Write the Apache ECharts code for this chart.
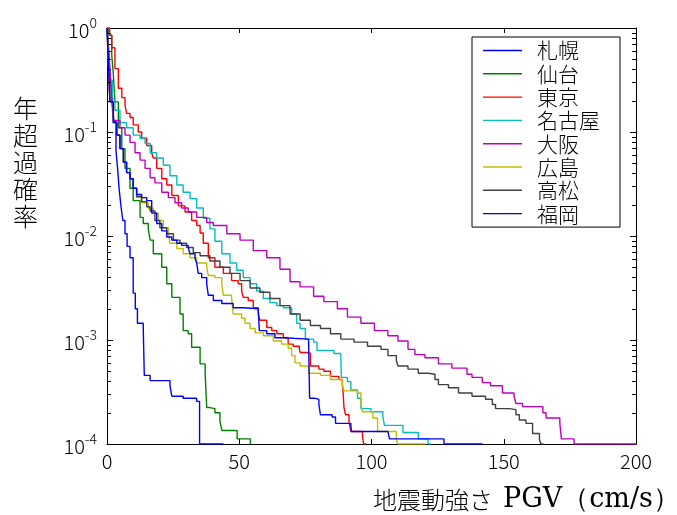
<!DOCTYPE html>
<html>
<head>
<meta charset="utf-8">
<script src="https://cdn.jsdelivr.net/npm/echarts@6/dist/echarts.min.js"></script>
<style>
html,body{margin:0;padding:0;background:#fff;}
#chart{width:677px;height:515px;}
</style>
</head>
<body>
<div id="chart"></div>
<script>
// ---- data ----
const seriesNames = ['札幌','仙台','東京','名古屋','大阪','広島','高松','福岡'];
const xTicks = [0, 50, 100, 150, 200];
const yDecades = [1e-4, 1e-3, 1e-2, 1e-1, 1];
const minorTickValues = [
  2e-4,3e-4,4e-4,5e-4,6e-4,7e-4,8e-4,9e-4,
  2e-3,3e-3,4e-3,5e-3,6e-3,7e-3,8e-3,9e-3,
  2e-2,3e-2,4e-2,5e-2,6e-2,7e-2,8e-2,9e-2,
  0.2,0.3,0.4,0.5,0.6,0.7,0.8,0.9
];
const xAxisTitleJp = '地震動強さ';
const xAxisTitleEn = 'PGV（cm/s）';
const yAxisTitle = '年超過確率';

const sapporoX = [0, 0.5, 1.2, 1.9, 2.6, 3.4, 4.0, 4.6, 5.3, 6.0, 6.8, 7.6, 8.7, 9.9, 10.7, 11.5, 13.7, 14.1, 16.3, 23.8, 24.5, 28.8, 33.9, 35.0, 44.0];
const sapporoY = [1, 0.631, 0.355, 0.204, 0.126, 0.0661, 0.0447, 0.0282, 0.0191, 0.0141, 0.0105, 0.00794, 0.00617, 0.00282, 0.00200, 0.00145, 0.00132, 0.000457, 0.000407, 0.000363, 0.000288, 0.000275, 0.000257, 0.0001, 0.0001];

const sendaiX = [0, 0.5, 0.9, 1.8, 2.4, 3.0, 4.3, 5.6, 6.8, 8.7, 9.9, 12.5, 13.7, 15.6, 16.3, 17.5, 20.7, 22.6, 24.5, 27.6, 28.8, 30.7, 32.0, 35.2, 37.1, 37.7, 38.9, 40.8, 42.7, 43.4, 49.2, 54.2];
const sendaiY = [1, 0.955, 0.851, 0.550, 0.355, 0.195, 0.110, 0.0692, 0.0447, 0.0288, 0.0219, 0.0151, 0.0132, 0.0117, 0.00912, 0.00676, 0.00501, 0.00347, 0.00257, 0.00178, 0.00123, 0.00115, 0.000851, 0.000589, 0.000479, 0.000224, 0.000219, 0.000200, 0.000166, 0.000135, 0.000112, 0.0001];

const tokyoX = [0, 1.0, 1.8, 3.0, 4.3, 5.6, 6.8, 7.4, 8.7, 9.9, 11.8, 13.1, 15.0, 16.9, 17.5, 18.8, 20.7, 22.6, 24.5, 27.0, 29.5, 32.0, 33.9, 35.2, 36.4, 38.3, 40.8, 44.0, 47.1, 49.6, 50.9, 51.5, 53.4, 55.3, 57.2, 57.8, 60.4, 62.3, 64.2, 66.7, 68.5, 70.4, 72.7, 73.0, 75.6, 76.9, 80.1, 82.0, 84.5, 87.7, 89.0, 89.2, 89.6, 90.2, 91.5, 92.2, 96.6, 97.0, 98.0];
const tokyoY = [1, 0.85, 0.646, 0.407, 0.263, 0.214, 0.182, 0.151, 0.138, 0.117, 0.1, 0.0871, 0.0741, 0.0631, 0.0562, 0.0447, 0.0355, 0.0309, 0.0245, 0.0195, 0.0170, 0.0141, 0.0126, 0.0107, 0.00851, 0.00617, 0.00501, 0.00437, 0.00372, 0.00347, 0.00295, 0.00257, 0.00240, 0.00204, 0.00178, 0.00155, 0.00132, 0.00123, 0.00115, 0.00105, 0.000912, 0.000871, 0.000832, 0.000759, 0.000741, 0.000562, 0.000525, 0.000501, 0.000447, 0.000417, 0.000372, 0.000331, 0.000224, 0.000191, 0.000162, 0.000132, 0.000117, 0.0001, 0.0001];

const nagoyaX = [0, 0.5, 1.2, 2.0, 3.0, 4.9, 7.4, 9.9, 12.5, 14.4, 16.3, 18.8, 21.3, 23.8, 26.4, 28.8, 31.4, 33.9, 36.4, 38.9, 40.8, 43.4, 46.5, 49.0, 51.5, 54.1, 56.6, 59.1, 61.6, 64.2, 66.7, 69.8, 71.7, 73.0, 75.0, 78.1, 79.4, 85.8, 88.4, 88.6, 90.9, 92.2, 94.7, 96.0, 99.8, 104.3, 104.9, 111.9, 117.7, 121.4, 122.5];
const nagoyaY = [1, 0.631, 0.316, 0.209, 0.162, 0.123, 0.110, 0.0933, 0.0871, 0.0776, 0.0631, 0.0562, 0.0479, 0.0380, 0.0309, 0.0263, 0.0229, 0.0186, 0.0148, 0.0117, 0.00891, 0.00676, 0.00550, 0.00468, 0.00398, 0.00347, 0.00295, 0.00251, 0.00229, 0.00214, 0.00204, 0.00178, 0.00145, 0.00129, 0.00102, 0.000955, 0.000794, 0.000741, 0.000708, 0.000437, 0.000398, 0.000331, 0.000275, 0.000219, 0.000204, 0.000182, 0.000151, 0.000129, 0.000112, 0.0001, 0.0001];

const osakaX = [0, 0.5, 1.2, 1.8, 2.4, 4.9, 6.8, 8.7, 10.6, 12.5, 14.4, 16.3, 18.1, 20.7, 23.2, 25.7, 28.2, 30.7, 33.9, 37.7, 40.2, 45.3, 50.3, 55.3, 60.4, 65.4, 69.2, 73.0, 78.1, 82.0, 87.1, 90.9, 96.0, 101.1, 106.2, 110.0, 113.8, 116.4, 120.2, 125.3, 130.4, 136.1, 138.0, 141.9, 145.0, 149.5, 153.9, 154.6, 157.1, 164.8, 166.0, 171.2, 171.8, 176.6, 200];
const osakaY = [1, 0.708, 0.355, 0.204, 0.129, 0.110, 0.0933, 0.0794, 0.0631, 0.0537, 0.0447, 0.0363, 0.0324, 0.0263, 0.0234, 0.0209, 0.0186, 0.0170, 0.0151, 0.0135, 0.0126, 0.0105, 0.00912, 0.00724, 0.00617, 0.00479, 0.00363, 0.00324, 0.00263, 0.00234, 0.00200, 0.00166, 0.00145, 0.00123, 0.00110, 0.000977, 0.000813, 0.000724, 0.000676, 0.000589, 0.000537, 0.000468, 0.000437, 0.000389, 0.000363, 0.000309, 0.000288, 0.000245, 0.000229, 0.000200, 0.000178, 0.000158, 0.000112, 0.0001, 0.0001];

const hiroshimaX = [0, 0.5, 1.1, 2.4, 3.7, 4.9, 6.2, 7.4, 8.7, 9.9, 11.2, 13.1, 15.6, 17.5, 19.4, 21.3, 23.2, 23.8, 26.4, 28.8, 31.4, 33.9, 37.7, 38.3, 40.8, 43.4, 44.0, 47.1, 47.7, 50.9, 52.2, 54.1, 56.0, 59.1, 62.9, 66.0, 68.5, 69.8, 71.1, 73.0, 76.2, 80.7, 84.5, 89.0, 89.6, 94.7, 96.0, 96.6, 100.5, 102.3, 109.4, 110.0, 120.6];
const hiroshimaY = [1, 0.501, 0.195, 0.123, 0.0933, 0.0692, 0.0513, 0.0407, 0.0355, 0.0288, 0.0234, 0.0209, 0.0186, 0.0166, 0.0141, 0.0120, 0.0105, 0.00851, 0.00759, 0.00676, 0.00617, 0.00550, 0.00501, 0.00417, 0.00398, 0.00347, 0.00269, 0.00257, 0.00178, 0.00162, 0.00145, 0.00129, 0.00117, 0.00110, 0.000977, 0.000912, 0.000832, 0.000708, 0.000603, 0.000562, 0.000479, 0.000457, 0.000417, 0.000363, 0.000324, 0.000309, 0.000245, 0.000204, 0.000178, 0.000132, 0.000110, 0.0001, 0.0001];

const takamatsuX = [0, 0.5, 1.1, 2.4, 3.7, 4.9, 6.2, 7.4, 8.7, 9.9, 11.2, 13.1, 15.0, 16.3, 18.1, 20.0, 22.6, 25.1, 27.6, 30.1, 32.6, 35.2, 38.9, 42.7, 46.5, 50.3, 54.1, 57.8, 61.6, 65.4, 69.2, 73.0, 76.9, 80.7, 84.5, 88.4, 93.4, 98.5, 103.6, 106.2, 109.4, 110.0, 113.8, 117.7, 121.5, 124.0, 125.3, 129.1, 132.9, 138.0, 143.1, 145.7, 146.9, 152.1, 154.6, 155.9, 158.4, 160.9, 163.5, 164.1, 165.0];
const takamatsuY = [1, 0.501, 0.195, 0.123, 0.0933, 0.0692, 0.0513, 0.0407, 0.0355, 0.0288, 0.0240, 0.0214, 0.0191, 0.0174, 0.0141, 0.0120, 0.0105, 0.00912, 0.00851, 0.00776, 0.00692, 0.00646, 0.00575, 0.00501, 0.00437, 0.00372, 0.00316, 0.00288, 0.00251, 0.00214, 0.00178, 0.00155, 0.00138, 0.00129, 0.00115, 0.00102, 0.000955, 0.000871, 0.000813, 0.000708, 0.000631, 0.000562, 0.000525, 0.000479, 0.000468, 0.000417, 0.000372, 0.000347, 0.000309, 0.000288, 0.000269, 0.000240, 0.000219, 0.000214, 0.000191, 0.000170, 0.000158, 0.000126, 0.000110, 0.0001, 0.0001];

const fukuokaX = [0, 0.5, 1.1, 2.4, 3.7, 4.9, 6.2, 7.4, 8.7, 9.9, 11.2, 13.1, 15.0, 16.9, 18.8, 20.7, 22.6, 24.5, 26.4, 28.2, 30.7, 31.4, 33.3, 33.9, 34.5, 35.8, 37.7, 38.3, 40.2, 43.4, 47.7, 51.5, 57.2, 57.6, 60.4, 63.5, 66.7, 76.2, 76.6, 78.8, 80.1, 80.7, 85.1, 86.4, 92.2, 92.4, 106.2, 106.8, 127.4, 142.0];
const fukuokaY = [1, 0.501, 0.195, 0.123, 0.0933, 0.0692, 0.0513, 0.0407, 0.0355, 0.0288, 0.0251, 0.0234, 0.0219, 0.0166, 0.0132, 0.0112, 0.00977, 0.00912, 0.00851, 0.00813, 0.00776, 0.00676, 0.00603, 0.00550, 0.00437, 0.00398, 0.00347, 0.00269, 0.00240, 0.00224, 0.00204, 0.00200, 0.00191, 0.00123, 0.00115, 0.00105, 0.00102, 0.00100, 0.000275, 0.000269, 0.000240, 0.000191, 0.000182, 0.000158, 0.000151, 0.000132, 0.000129, 0.000112, 0.0001, 0.0001];

const seriesX = [sapporoX, sendaiX, tokyoX, nagoyaX, osakaX, hiroshimaX, takamatsuX, fukuokaX];
const seriesY = [sapporoY, sendaiY, tokyoY, nagoyaY, osakaY, hiroshimaY, takamatsuY, fukuokaY];
const colors = ['#0000ff', '#008000', '#ff0000', '#00bfbf', '#bf00bf', '#bfbf00', '#404040', '#0000ff'];

// ---- chart ----
const JP = "'Noto Sans CJK JP', 'Noto Sans', sans-serif";
const chart = echarts.init(document.getElementById('chart'), null, {renderer: 'canvas'});

const lineSeries = seriesNames.map((name, i) => ({
  name: name,
  type: 'line',
  step: 'end',
  symbol: 'none',
  showSymbol: false,
  xAxisIndex: 0,
  yAxisIndex: 0,
  data: seriesX[i].map((x, j) => [x, seriesY[i][j]]),
  lineStyle: {color: colors[i], width: 1.4},
  itemStyle: {color: colors[i]},
  emphasis: {disabled: true},
  animation: false,
  z: 3
}));

const minorSeries = {
  name: 'minorTicks',
  type: 'custom',
  xAxisIndex: 0,
  yAxisIndex: 0,
  silent: true,
  clip: false,
  z: 4,
  data: minorTickValues.map(v => [xTicks[0], v]),
  renderItem: function (params, api) {
    const v = api.value(1);
    const l = api.coord([xTicks[0], v]);
    const r = api.coord([xTicks[xTicks.length - 1], v]);
    const y = Math.round(l[1]) + 0.5;
    return {
      type: 'group',
      children: [
        {type: 'line', shape: {x1: l[0], y1: y, x2: l[0] + 4, y2: y}, style: {stroke: '#000', lineWidth: 1}},
        {type: 'line', shape: {x1: r[0] - 4, y1: y, x2: r[0], y2: y}, style: {stroke: '#000', lineWidth: 1}}
      ]
    };
  }
};

const xAxisBase = {
  type: 'value',
  min: xTicks[0],
  max: xTicks[xTicks.length - 1],
  interval: 50,
  splitLine: {show: false},
  axisLine: {show: true, onZero: false, lineStyle: {color: '#000', width: 1}},
  axisTick: {show: true, inside: true, length: 5, lineStyle: {color: '#000'}}
};
const yAxisBase = {
  type: 'log',
  logBase: 10,
  min: yDecades[0],
  max: yDecades[yDecades.length - 1],
  splitNumber: 4,
  splitLine: {show: false},
  axisLine: {show: true, onZero: false, lineStyle: {color: '#000', width: 1}},
  axisTick: {show: true, inside: true, length: 6, lineStyle: {color: '#000'}}
};

const option = {
  animation: false,
  backgroundColor: '#fff',
  grid: {left: 107, right: 41, top: 28, bottom: 71},
  xAxis: [
    Object.assign({}, xAxisBase, {
      position: 'bottom',
      axisLabel: {show: true, color: '#000', fontSize: 20, fontWeight: 300, fontFamily: JP, margin: 7,
        showMinLabel: true, showMaxLabel: true}
    }),
    Object.assign({}, xAxisBase, {position: 'top', axisLabel: {show: false}})
  ],
  yAxis: [
    Object.assign({}, yAxisBase, {
      position: 'left',
      axisLabel: {
        show: true, margin: 10, showMinLabel: true, showMaxLabel: true,
        formatter: function (v) {
          const e = Math.round(Math.log10(v));
          return '{b|10}{s|' + e + '}';
        },
        rich: {
          b: {fontSize: 20, fontWeight: 300, fontFamily: JP, color: '#000', lineHeight: 24, verticalAlign: 'bottom'},
          s: {fontSize: 14, fontWeight: 300, fontFamily: JP, color: '#000', lineHeight: 12, verticalAlign: 'top'}
        }
      }
    }),
    Object.assign({}, yAxisBase, {position: 'right', axisLabel: {show: false}})
  ],
  legend: {
    data: seriesNames,
    orient: 'vertical',
    left: 472,
    top: 37,
    icon: 'rect',
    itemWidth: 39,
    itemHeight: 1.4,
    itemGap: 2.3,
    padding: [3, 20, 3, 11],
    borderColor: '#000',
    borderWidth: 1,
    backgroundColor: '#fff',
    selectedMode: false,
    textStyle: {fontSize: 21, fontWeight: 300, lineHeight: 21, fontFamily: JP, color: '#000', padding: [0, 0, 0, 10]}
  },
  graphic: [
    {
      type: 'text',
      left: 13,
      top: 95,
      style: {
        text: yAxisTitle.split('').join('\n'),
        font: "300 25px 'Noto Sans CJK JP'",
        lineHeight: 27,
        fill: '#000'
      }
    },
    {
      type: 'text',
      left: 373,
      top: 488,
      style: {
        text: xAxisTitleJp,
        font: "300 24px 'Noto Sans CJK JP'",
        fill: '#000'
      }
    },
    {
      type: 'text',
      left: 503,
      top: 486,
      style: {
        text: xAxisTitleEn,
        font: "27px 'DejaVu Serif', 'Liberation Serif', serif",
        fill: '#000'
      }
    }
  ],
  series: lineSeries.concat([minorSeries])
};

chart.setOption(option);
</script>
</body>
</html>
